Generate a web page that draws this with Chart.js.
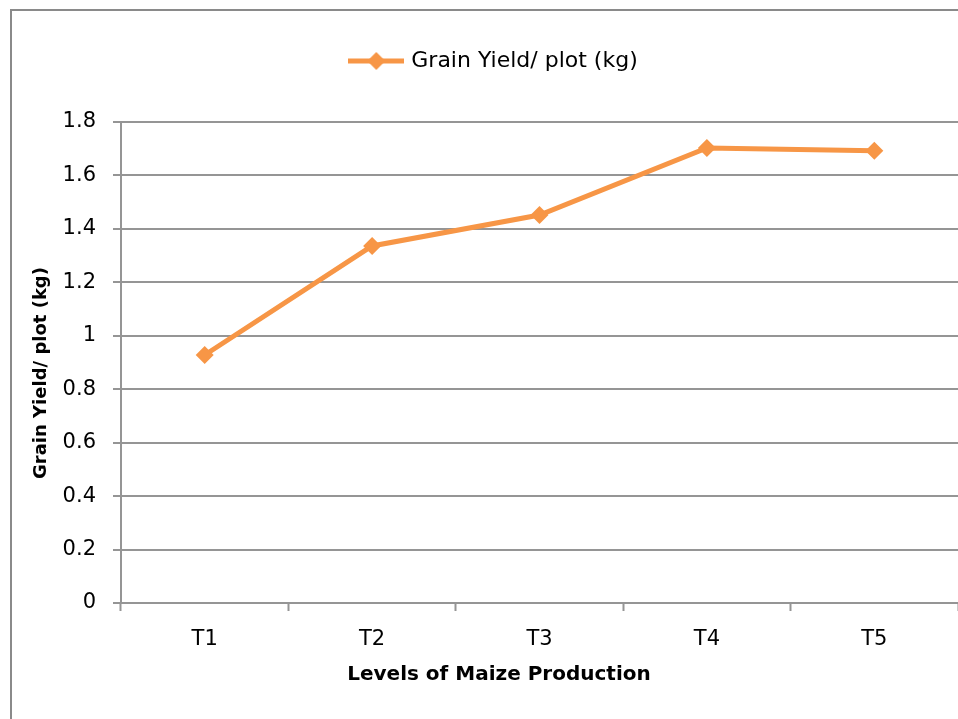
<!DOCTYPE html>
<html>
<head>
<meta charset="utf-8">
<title>Grain Yield per plot</title>
<script src="https://cdn.jsdelivr.net/npm/chart.js@4"></script>
<style>
    html, body { margin: 0; padding: 0; background: #fff; }
    #wrap { width: 958px; height: 719px; position: relative; }
</style>
</head>
<body>
<div id="wrap"><canvas id="yieldChart"></canvas></div>
<script>
// Chart data
const categories = ['T1', 'T2', 'T3', 'T4', 'T5'];
const grainYield = [0.928, 1.336, 1.452, 1.703, 1.692];
const yTicks = [0, 0.2, 0.4, 0.6, 0.8, 1, 1.2, 1.4, 1.6, 1.8];
const seriesLabel = 'Grain Yield/ plot (kg)';
const xTitle = 'Levels of Maize Production';
const yTitle = 'Grain Yield/ plot (kg)';

const ORANGE = '#F79646';
const GRID = '#959595';
const FONT = '"DejaVu Sans", sans-serif';

// Legend symbol: line segment with a diamond in the middle
function makeLegendSymbol() {
    const c = document.createElement('canvas');
    c.width = 56;
    c.height = 20;
    const g = c.getContext('2d');
    g.strokeStyle = ORANGE;
    g.lineWidth = 5;
    g.beginPath();
    g.moveTo(0, 10);
    g.lineTo(56, 10);
    g.stroke();
    g.fillStyle = ORANGE;
    g.beginPath();
    g.moveTo(28, 1);
    g.lineTo(37, 10);
    g.lineTo(28, 19);
    g.lineTo(19, 10);
    g.closePath();
    g.fill();
    return c;
}

// Outer frame, legend placement and axis titles
const framePlugin = {
    id: 'frame',
    beforeInit(chart) {
        const origFit = chart.legend.fit;
        chart.legend.fit = function() {
            origFit.call(this);
            this.height = 122;
        };
    },
    afterLayout(chart) {
        // legend sits a bit right of the canvas centre
        chart.legend.left += 16;
        chart.legend.right += 16;
    },
    afterDraw(chart) {
        const ctx = chart.ctx;
        ctx.save();
        ctx.strokeStyle = '#8a8a8a';
        ctx.lineWidth = 2;
        ctx.strokeRect(11, 10, 1100, 900);

        ctx.fillStyle = '#000';
        ctx.font = 'bold 20px ' + FONT;
        ctx.textAlign = 'center';
        ctx.textBaseline = 'middle';
        ctx.fillText(xTitle, 499, 675);

        ctx.font = 'bold 18px ' + FONT;
        ctx.translate(41, 373);
        ctx.rotate(-Math.PI / 2);
        ctx.fillText(yTitle, 0, 0);
        ctx.restore();
    }
};

function initYieldChart() {
    const ctx = document.getElementById('yieldChart');
    if (!ctx) return;

    new Chart(ctx, {
        type: 'line',
        data: {
            labels: categories,
            datasets: [{
                label: seriesLabel,
                data: grainYield,
                borderColor: ORANGE,
                backgroundColor: ORANGE,
                borderWidth: 5,
                pointStyle: 'rectRot',
                pointRadius: 9,
                pointBackgroundColor: ORANGE,
                pointBorderColor: ORANGE,
                pointBorderWidth: 0,
                tension: 0
            }]
        },
        options: {
            responsive: true,
            maintainAspectRatio: false,
            animation: false,
            layout: { padding: 0, autoPadding: false },
            scales: {
                x: {
                    offset: true,
                    grid: {
                        offset: true,
                        drawOnChartArea: false,
                        drawTicks: true,
                        tickLength: 8,
                        tickWidth: 2,
                        tickColor: GRID
                    },
                    border: { display: true, color: GRID, width: 2 },
                    ticks: {
                        color: '#000',
                        padding: 16,
                        font: { family: FONT, size: 21 }
                    },
                    afterFit: function(scale) { scale.height = 116; }
                },
                y: {
                    min: 0,
                    max: 1.8,
                    afterBuildTicks: function(scale) {
                        scale.ticks = yTicks.map(v => ({ value: v }));
                    },
                    grid: {
                        color: GRID,
                        lineWidth: 2,
                        tickLength: 8
                    },
                    border: { display: true, color: GRID, width: 2 },
                    ticks: {
                        color: '#000',
                        padding: 17,
                        font: { family: FONT, size: 21 },
                        callback: function(value) {
                            return String(Number(value.toFixed(1)));
                        }
                    },
                    afterFit: function(scale) { scale.width = 121; }
                }
            },
            plugins: {
                legend: {
                    position: 'top',
                    labels: {
                        usePointStyle: true,
                        pointStyleWidth: 48,
                        padding: 50,
                        color: '#000',
                        font: { family: FONT, size: 22 },
                        generateLabels: function(chart) {
                            return [{
                                text: seriesLabel,
                                pointStyle: makeLegendSymbol(),
                                fillStyle: ORANGE,
                                strokeStyle: ORANGE,
                                lineWidth: 0,
                                datasetIndex: 0
                            }];
                        }
                    }
                },
                tooltip: { enabled: false }
            }
        },
        plugins: [framePlugin]
    });
}

document.addEventListener('DOMContentLoaded', function() {
    initYieldChart();
});
</script>
</body>
</html>
